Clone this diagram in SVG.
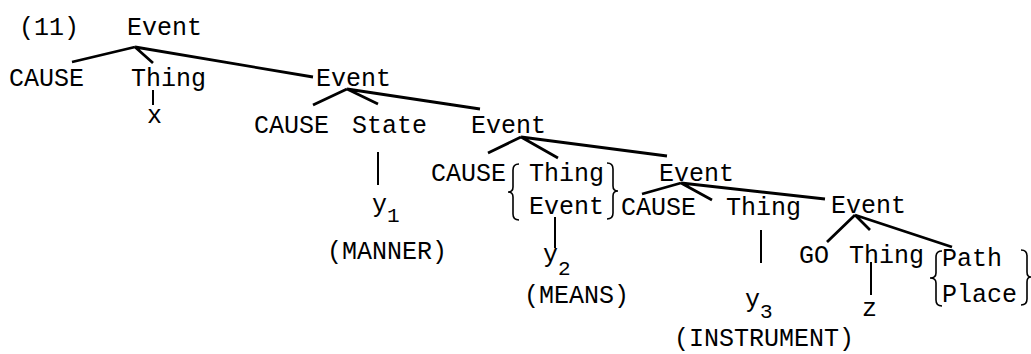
<svg xmlns="http://www.w3.org/2000/svg" width="1031" height="354" viewBox="0 0 1031 354">
  <style>
    text { font-family: "Liberation Mono", "Courier New", monospace; font-size: 25px; fill: #000; }
    text.sub { font-size: 21px; }
    .edge { stroke: #000; stroke-width: 2.8; fill: none; stroke-linecap: butt; }
    .stem { stroke: #000; stroke-width: 2; fill: none; }
    .brace { stroke: #000; stroke-width: 1.6; fill: none; }
  </style>
  <rect width="1031" height="354" fill="#fff"/>

  <text id="label" x="19" y="35">(11)</text>

  <!-- connectors -->
  <g id="connectors">
    <path class="edge" d="M135,47 L72,62 M135,47 L153,63 M135,47 L313,77"/>
    <path class="stem" d="M153,90 L153,105"/>
    <path class="edge" d="M347,89 L313,105 M347,89 L378,104 M347,89 L480,109"/>
    <path class="stem" d="M378,152 L378,185"/>
    <path class="edge" d="M521,137 L488,153 M521,137 L558,158 M521,137 L667,156"/>
    <path class="stem" d="M555,217 L555,248"/>
    <path class="edge" d="M681,183 L642,194 M681,183 L712,200 M681,183 L825,199"/>
    <path class="stem" d="M761,230 L761,263"/>
    <path class="edge" d="M855,215 L827,242 M855,215 L870,230 M855,215 L952,247"/>
    <path class="stem" d="M871,262 L871,295"/>
  </g>

  <g id="n-event1"><text x="127" y="35">Event</text></g>
  <g id="n-cause1"><text x="9" y="86">CAUSE</text></g>
  <g id="n-thing1"><text x="131" y="86">Thing</text></g>
  <g id="n-x"><text x="147" y="123">x</text></g>

  <g id="n-event2"><text x="316" y="86">Event</text></g>
  <g id="n-cause2"><text x="254" y="133">CAUSE</text></g>
  <g id="n-state"><text x="352" y="133">State</text></g>
  <g id="n-y1">
    <text x="372" y="212">y</text><text class="sub" x="387" y="222">1</text>
    <text x="327" y="259">(MANNER)</text>
  </g>

  <g id="n-event3"><text x="471" y="133">Event</text></g>
  <g id="n-cause3"><text x="431" y="181">CAUSE</text></g>
  <g id="n-thing-event">
    <path class="brace" d="M519,164 Q513,164 513,170 L513,187 Q513,192 508,192 Q513,192 513,197 L513,214 Q513,220 519,220"/>
    <text x="529" y="181">Thing</text>
    <text x="529" y="214">Event</text>
    <path class="brace" d="M607,163 Q613,163 613,169 L613,186 Q613,191 618,191 Q613,191 613,196 L613,213 Q613,219 607,219"/>
  </g>
  <g id="n-y2">
    <text x="543" y="262">y</text><text class="sub" x="558" y="275">2</text>
    <text x="524" y="303">(MEANS)</text>
  </g>

  <g id="n-event4"><text x="659" y="181">Event</text></g>
  <g id="n-cause4"><text x="621" y="215">CAUSE</text></g>
  <g id="n-thing4"><text x="726" y="215">Thing</text></g>
  <g id="n-y3">
    <text x="745" y="307">y</text><text class="sub" x="760" y="318">3</text>
    <text x="674" y="346">(INSTRUMENT)</text>
  </g>

  <g id="n-event5"><text x="831" y="213">Event</text></g>
  <g id="n-go"><text x="799" y="263">GO</text></g>
  <g id="n-thing5"><text x="849" y="263">Thing</text></g>
  <g id="n-z"><text x="862" y="316">z</text></g>
  <g id="n-path-place">
    <path class="brace" d="M942,251 Q936,251 936,257 L936,273 Q936,278 930,278 Q936,278 936,283 L936,300 Q936,306 942,306"/>
    <text x="942" y="266">Path</text>
    <text x="942" y="302">Place</text>
    <path class="brace" d="M1021,250 Q1027,250 1027,256 L1027,272 Q1027,277 1031,277 Q1027,277 1027,282 L1027,299 Q1027,305 1021,305"/>
  </g>
</svg>
